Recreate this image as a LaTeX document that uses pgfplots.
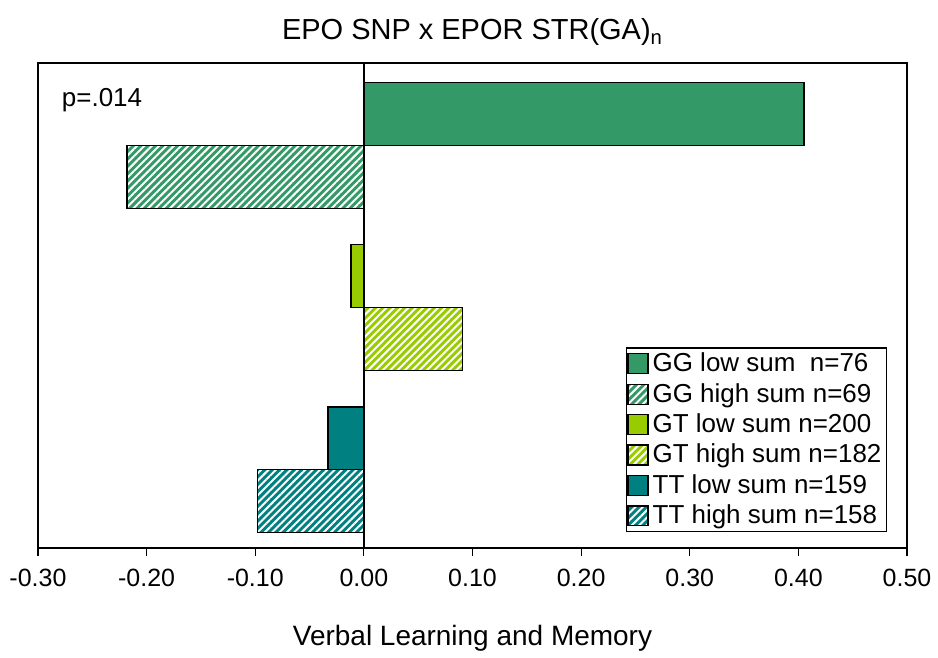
\documentclass[border=0pt]{standalone}
\usepackage{pgfplots}
\pgfplotsset{compat=1.18}
\usepackage{fontspec}
\setmainfont{Liberation Sans}
\usetikzlibrary{patterns.meta}
\definecolor{cGG}{HTML}{339966}
\definecolor{cGT}{HTML}{99CC00}
\definecolor{cTT}{HTML}{008080}
\tikzset{hatch/.style={postaction={pattern={Lines[angle=45,distance=2.6pt,line width=1pt]},pattern color=white}}}
\begin{document}
\begin{tikzpicture}[font=\fontsize{12.5}{15}\selectfont]
\begin{axis}[
  scale only axis,
  width=435pt, height=243pt,
  xmin=-0.3, xmax=0.5, ymin=0, ymax=3,
  xtick={-0.3,-0.2,...,0.5},
  xticklabels={-0.30,-0.20,-0.10,0.00,0.10,0.20,0.30,0.40,0.50},
  ytick=\empty,
  tick align=outside,
  xtick pos=bottom,
  major tick length=4pt,
  axis line style={line width=1pt},
  every tick/.style={black, line width=0.6pt},
  xticklabel style={font=\fontsize{12.5}{15}\selectfont, yshift=-3pt},
  xlabel={Verbal Learning and Memory},
  xlabel style={font=\fontsize{14}{16}\selectfont, yshift=-12pt},
  title={EPO SNP x EPOR STR(GA)\textsubscript{n}},
  title style={font=\fontsize{14.5}{17}\selectfont, yshift=-1pt},
  xbar, bar width=0.389, bar shift=0pt,
  legend cell align=left,
  legend style={at={(rel axis cs:0.977,0.033)}, anchor=south east,
    draw=black, line width=0.6pt, font=\fontsize{13}{15}\selectfont,
    row sep=0.3pt, inner sep=0.5pt},
  legend image code/.code={\draw[#1, line width=0.6pt] (0pt,-5pt) rectangle (10pt,5pt);},
]
\addplot[fill=cGG, draw=black, line width=0.75pt] coordinates {(0.405,2.685)};
\addlegendentry{GG low sum\ \ n=76}
\addplot[fill=cGG, draw=black, line width=0.75pt, hatch] coordinates {(-0.218,2.296)};
\addlegendentry{GG high sum n=69}
\addplot[fill=cGT, draw=black, line width=0.75pt] coordinates {(-0.012,1.682)};
\addlegendentry{GT low sum n=200}
\addplot[fill=cGT, draw=black, line width=0.75pt, hatch] coordinates {(0.091,1.293)};
\addlegendentry{GT high sum n=182}
\addplot[fill=cTT, draw=black, line width=0.75pt] coordinates {(-0.033,0.679)};
\addlegendentry{TT low sum n=159}
\addplot[fill=cTT, draw=black, line width=0.75pt, hatch] coordinates {(-0.098,0.293)};
\addlegendentry{TT high sum n=158}
\addplot[black, line width=1pt, forget plot, sharp plot] coordinates {(0,0) (0,3)};
\node[anchor=west, font=\fontsize{13}{15}\selectfont] at (axis cs:-0.2844,2.77) {p=.014};
\end{axis}
\path (current axis.south west) ++(-19pt,-54.5pt);
\path (current axis.north east) ++(15pt,31.5pt);
\end{tikzpicture}
\end{document}
